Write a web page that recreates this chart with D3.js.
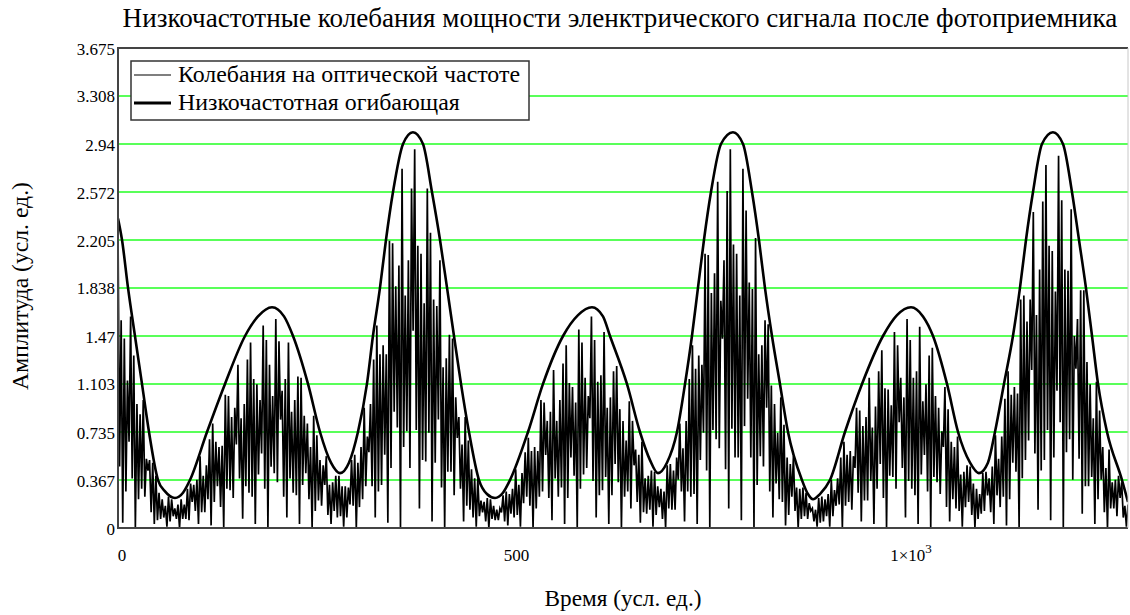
<!DOCTYPE html>
<html>
<head>
<meta charset="utf-8">
<script src="https://cdn.jsdelivr.net/npm/d3@7"></script>
<style>
  body { margin: 0; background: #fff; }
</style>
</head>
<body>
<svg id="chart" width="1130" height="615"></svg>
<script>
// Размеры области графика
var W = 1130, H = 615;
var PLOT = {left: 118, right: 1128, top: 48, bottom: 528};
var FONT = "Liberation Serif";

// Текст
var titleText = "Низкочастотные колебания мощности эленктрического сигнала после фотоприемника";
var xTitle = "Время (усл. ед.)";
var yTitle = "Амплитуда (усл. ед.)";
var legendNames = ["Колебания на оптической частоте", "Низкочастотная огибающая"];

// Оси
var xDomain = [0, 1280];
var yDomain = [0, 3.675];
var yTicks = [0, 0.367, 0.735, 1.103, 1.47, 1.838, 2.205, 2.572, 2.94, 3.308, 3.675];
var yTickLabels = ["0", "0.367", "0.735", "1.103", "1.47", "1.838", "2.205", "2.572", "2.94", "3.308", "3.675"];
var xTicks = [0, 500, 1000];
var xTickLabels = ["0", "500", "1×10|3"]; // "|" -> показатель степени

// Огибающая (время, значение)
var envT = [0, 5.1, 12.7, 21.5, 30.4, 39.3, 50.7, 59.6, 72.2, 82.4, 91.2, 112.8, 135.6, 161.0, 177.4, 195.2,
  210.4, 221.8, 240.8, 256.0, 269.9, 281.3, 292.7, 304.1, 315.5, 323.1, 332.0, 339.6, 348.5, 361.2, 373.8,
  386.5, 397.9, 408.1, 417.0, 425.8, 434.7, 444.8, 457.5, 467.6, 477.8, 487.9, 496.8, 519.6, 538.6, 564.0,
  583.0, 600.7, 614.6, 623.5, 645.0, 661.5, 674.2, 684.3, 695.7, 708.4, 718.6, 727.4, 735.0, 742.6, 751.5,
  764.2, 779.4, 792.1, 803.5, 812.3, 819.9, 828.8, 838.9, 849.1, 866.8, 874.4, 880.8, 889.6, 902.3, 921.3,
  942.9, 969.5, 987.3, 1005.0, 1020.2, 1032.9, 1050.6, 1064.6, 1079.8, 1091.1, 1102.5, 1111.4, 1122.8,
  1134.2, 1143.1, 1150.7, 1159.6, 1171.0, 1184.9, 1197.6, 1209.0, 1217.9, 1226.7, 1234.4, 1242.0, 1253.4,
  1272.4, 1280];
var envV = [2.37, 2.205, 1.838, 1.47, 1.103, 0.735, 0.367, 0.28, 0.23, 0.27, 0.367, 0.735, 1.103, 1.47, 1.62, 1.69,
  1.62, 1.47, 1.103, 0.735, 0.5, 0.42, 0.5, 0.735, 1.103, 1.47, 1.838, 2.205, 2.572, 2.94, 3.03,
  2.94, 2.572, 2.205, 1.838, 1.47, 1.103, 0.735, 0.367, 0.26, 0.23, 0.27, 0.367, 0.735, 1.103, 1.47,
  1.63, 1.69, 1.62, 1.47, 1.103, 0.735, 0.52, 0.42, 0.5, 0.735, 1.103, 1.47, 1.838, 2.205, 2.572,
  2.94, 3.03, 2.94, 2.572, 2.205, 1.838, 1.47, 1.103, 0.735, 0.367, 0.26, 0.22, 0.26, 0.367, 0.735,
  1.103, 1.47, 1.63, 1.69, 1.62, 1.47, 1.103, 0.735, 0.5, 0.42, 0.5, 0.735, 1.103,
  1.47, 1.838, 2.205, 2.572, 2.94, 3.03, 2.94, 2.572, 2.205, 1.838, 1.47, 1.103, 0.735,
  0.367, 0.2];

// Быстрые колебания: в каждом интервале 8 ед. —
// вершина, промежуточный минимум, вторая вершина, глубокий минимум
var SPIKE_STEP = 8;
var spikePeaks = [2.30, 1.45, 1.62, 0.95, 0.98, 0.52, 0.40, 0.22, 0.24, 0.15,
  0.22, 0.30, 0.33, 0.55, 0.48, 0.80, 0.62, 1.02, 0.85, 1.25,
  0.95, 1.42, 1.10, 1.55, 1.25, 1.60, 1.05, 1.42, 0.98, 1.15,
  0.80, 0.86, 0.52, 0.55, 0.35, 0.40, 0.32, 0.52, 0.50, 0.92,
  0.95, 1.55, 1.40, 2.20, 1.85, 2.75, 2.05, 2.90, 2.10, 2.60,
  1.75, 2.05, 1.30, 1.45, 0.85, 0.85, 0.45, 0.38, 0.20, 0.22,
  0.14, 0.25, 0.26, 0.45, 0.42, 0.69, 0.62, 0.98, 0.82, 1.21,
  0.98, 1.40, 1.08, 1.52, 1.15, 1.62, 1.12, 1.50, 1.00, 1.24,
  0.82, 0.97, 0.60, 0.66, 0.40, 0.43, 0.30, 0.48, 0.44, 0.80,
  0.82, 1.40, 1.32, 2.10, 1.80, 2.65, 2.05, 2.90, 2.10, 2.75,
  1.88, 2.22, 1.40, 1.56, 0.95, 1.00, 0.54, 0.55, 0.30, 0.27,
  0.15, 0.23, 0.22, 0.37, 0.38, 0.66, 0.59, 0.92, 0.78, 1.15,
  0.93, 1.36, 1.06, 1.50, 1.15, 1.60, 1.15, 1.54, 1.10, 1.38,
  0.92, 1.08, 0.66, 0.70, 0.43, 0.47, 0.30, 0.42, 0.38, 0.71,
  0.70, 1.20, 1.08, 1.75, 1.58, 2.42, 1.98, 2.78, 2.12, 2.85,
  1.98, 2.44, 1.60, 1.82, 1.10, 1.12, 0.62, 0.60, 0.37, 0.35,
  0.18];
var spikeMid = [0.47, 0.28, 0.38, 0.22, 0.24, 0.12, 0.06, 0.08, 0.05, 0.07,
  0.07, 0.06, 0.13, 0.12, 0.22, 0.20, 0.16, 0.30, 0.23, 0.38,
  0.32, 0.24, 0.41, 0.30, 0.47, 0.35, 0.24, 0.38, 0.25, 0.33,
  0.22, 0.13, 0.17, 0.10, 0.13, 0.09, 0.08, 0.17, 0.16, 0.32,
  0.32, 0.28, 0.56, 0.46, 0.77, 0.62, 0.46, 0.75, 0.52, 0.73,
  0.50, 0.31, 0.43, 0.25, 0.30, 0.17, 0.08, 0.09, 0.05, 0.07,
  0.06, 0.05, 0.11, 0.10, 0.19, 0.17, 0.15, 0.28, 0.23, 0.38,
  0.31, 0.23, 0.40, 0.30, 0.46, 0.36, 0.25, 0.39, 0.25, 0.35,
  0.24, 0.15, 0.20, 0.12, 0.14, 0.10, 0.07, 0.15, 0.14, 0.28,
  0.28, 0.26, 0.52, 0.44, 0.75, 0.61, 0.45, 0.76, 0.54, 0.78,
  0.54, 0.33, 0.47, 0.28, 0.34, 0.20, 0.10, 0.13, 0.07, 0.07,
  0.05, 0.04, 0.09, 0.09, 0.18, 0.17, 0.14, 0.27, 0.21, 0.36,
  0.30, 0.23, 0.40, 0.30, 0.46, 0.36, 0.25, 0.41, 0.28, 0.39,
  0.26, 0.16, 0.22, 0.13, 0.16, 0.10, 0.07, 0.13, 0.12, 0.25,
  0.24, 0.22, 0.43, 0.38, 0.67, 0.57, 0.44, 0.75, 0.54, 0.81,
  0.58, 0.37, 0.53, 0.32, 0.39, 0.22, 0.12, 0.15, 0.09, 0.08];
var spikeSub = [1.59, 1.13, 1.32, 0.87, 0.53, 0.50, 0.27, 0.17, 0.22, 0.18,
  0.18, 0.34, 0.37, 0.40, 0.68, 0.66, 0.63, 1.01, 0.92, 0.84,
  1.29, 1.14, 0.98, 1.44, 1.01, 1.43, 1.14, 0.89, 1.16, 0.86,
  0.62, 0.71, 0.48, 0.33, 0.40, 0.32, 0.31, 0.56, 0.62, 0.70,
  1.29, 1.33, 1.33, 2.18, 2.01, 1.78, 2.60, 2.16, 1.72, 2.26,
  1.70, 1.23, 1.48, 1.00, 0.64, 0.67, 0.38, 0.21, 0.23, 0.17,
  0.15, 0.28, 0.30, 0.33, 0.58, 0.59, 0.59, 0.96, 0.89, 0.82,
  1.26, 1.11, 0.96, 1.42, 1.01, 1.44, 1.17, 0.92, 1.20, 0.91,
  0.67, 0.82, 0.56, 0.38, 0.44, 0.32, 0.28, 0.49, 0.54, 0.61,
  1.14, 1.22, 1.25, 2.09, 1.95, 1.74, 2.58, 2.17, 1.78, 2.43,
  1.83, 1.33, 1.59, 1.09, 0.73, 0.79, 0.49, 0.31, 0.31, 0.19,
  0.14, 0.24, 0.26, 0.29, 0.54, 0.56, 0.55, 0.90, 0.85, 0.77,
  1.20, 1.07, 0.94, 1.40, 1.00, 1.44, 1.20, 0.97, 1.32, 1.01,
  0.74, 0.91, 0.62, 0.41, 0.48, 0.34, 0.26, 0.43, 0.47, 0.53,
  0.99, 1.02, 1.03, 1.78, 1.75, 1.63, 2.50, 2.16, 1.81, 2.51,
  1.97, 1.47, 1.82, 1.27, 0.84, 0.90, 0.46, 0.35, 0.40, 0.17];
var spikeTroughs = [0.04, 0.66, 0, 0.30, 0.44, 0.03, 0.07, 0.01, 0.09, 0,
  0.07, 0.20, 0.03, 0.12, 0.02, 0.32, 0, 0.29, 0.64, 0.07,
  0.27, 0.03, 0.57, 0, 0.42, 0.83, 0.08, 0.27, 0.03, 0.42,
  0, 0.21, 0.33, 0.03, 0.08, 0.01, 0.18, 0, 0.22, 0.58,
  0.08, 0.33, 0.04, 0.89, 0, 0.74, 1.51, 0.15, 0.51, 0.05,
  0.83, 0, 0.43, 0.69, 0.05, 0.14, 0.01, 0.12, 0, 0.06,
  0.12, 0.02, 0.08, 0.01, 0.24, 0, 0.24, 0.56, 0.06, 0.24,
  0.03, 0.54, 0, 0.41, 0.84, 0.08, 0.29, 0.03, 0.49, 0,
  0.28, 0.48, 0.04, 0.11, 0.01, 0.16, 0, 0.14, 0.37, 0.05,
  0.24, 0.03, 0.73, 0, 0.68, 1.45, 0.15, 0.54, 0.06, 0.99,
  0, 0.55, 0.92, 0.08, 0.22, 0.02, 0.24, 0, 0.09, 0.13,
  0.01, 0.05, 0.01, 0.17, 0, 0.20, 0.46, 0.05, 0.21, 0.03,
  0.49, 0, 0.39, 0.81, 0.08, 0.30, 0.03, 0.56, 0, 0.35,
  0.62, 0.05, 0.15, 0.01, 0.20, 0, 0.11, 0.25, 0.03, 0.16,
  0.02, 0.50, 0, 0.52, 1.21, 0.14, 0.52, 0.06, 1.05, 0,
  0.68, 1.22, 0.11, 0.32, 0.03, 0.37, 0, 0.15, 0.23, 0.01];

var svg = d3.select("#chart").attr("font-family", FONT);

var x = d3.scaleLinear().domain(xDomain).range([PLOT.left, PLOT.right]);
var y = d3.scaleLinear().domain(yDomain).range([PLOT.bottom, PLOT.top]);

// подгонка размера шрифта под нужную ширину
function fitText(sel, width, base) {
  sel.attr("font-size", base);
  var w = sel.node().getComputedTextLength();
  sel.attr("font-size", (base * width / w).toFixed(2));
}

// Заголовок
var title = svg.append("text")
  .attr("x", 620).attr("y", 27)
  .attr("text-anchor", "middle")
  .text(titleText);
fitText(title, 995, 20);

svg.append("defs").append("clipPath").attr("id", "plotClip")
  .append("rect")
  .attr("x", PLOT.left).attr("y", PLOT.top)
  .attr("width", PLOT.right - PLOT.left).attr("height", PLOT.bottom - PLOT.top);

// Горизонтальная сетка
svg.append("g")
  .selectAll("line")
  .data(yTicks.slice(1, -1))
  .enter().append("line")
  .attr("x1", PLOT.left).attr("x2", PLOT.right)
  .attr("y1", function(d) { return y(d); })
  .attr("y2", function(d) { return y(d); })
  .attr("stroke", "#22ff22")
  .attr("stroke-width", 1.6);

// Быстрые колебания
var spikePts = [];
for (var i = 0; i < spikePeaks.length; i++) {
  var t0 = i * SPIKE_STEP;
  spikePts.push([t0, spikePeaks[i]]);
  if (i < spikeTroughs.length) {
    spikePts.push([t0 + 2, spikeMid[i]]);
    spikePts.push([t0 + 4, spikeSub[i]]);
    spikePts.push([t0 + 6, spikeTroughs[i]]);
  }
}
var lineGen = d3.line()
  .x(function(d) { return x(d[0]); })
  .y(function(d) { return y(d[1]); });

var plotG = svg.append("g").attr("clip-path", "url(#plotClip)");
plotG.append("path")
  .datum(spikePts)
  .attr("d", lineGen)
  .attr("fill", "none")
  .attr("stroke", "#000")
  .attr("stroke-width", 1.7);

// Огибающая
var envPts = envT.map(function(t, k) { return [t, envV[k]]; });
plotG.append("path")
  .datum(envPts)
  .attr("d", d3.line()
    .x(function(d) { return x(d[0]); })
    .y(function(d) { return y(d[1]); })
    .curve(d3.curveMonotoneX))
  .attr("fill", "none")
  .attr("stroke", "#000")
  .attr("stroke-width", 2.6);

// Рамка
var frame = svg.append("g").attr("fill", "none");
frame.append("path")
  .attr("d", "M" + PLOT.right + "," + PLOT.top + "H" + PLOT.left + "V" + PLOT.bottom + "H" + PLOT.right)
  .attr("stroke", "#444").attr("stroke-width", 2);
frame.append("line")
  .attr("x1", PLOT.right).attr("x2", PLOT.right)
  .attr("y1", PLOT.top).attr("y2", PLOT.bottom)
  .attr("stroke", "#c8c8c8").attr("stroke-width", 1);

// Подписи оси Y
svg.append("g")
  .selectAll("text")
  .data(yTicks)
  .enter().append("text")
  .attr("x", PLOT.left - 3)
  .attr("y", function(d) { return y(d) + 1; })
  .attr("text-anchor", "end")
  .attr("dominant-baseline", "central")
  .attr("font-size", 17)
  .text(function(d, k) { return yTickLabels[k]; });

// Подписи оси X
var xl = svg.append("g")
  .selectAll("text")
  .data(xTicks)
  .enter().append("text")
  .attr("x", function(d) { return x(d) + 4; })
  .attr("y", 561)
  .attr("text-anchor", "middle")
  .attr("font-size", 17);
xl.each(function(d, k) {
  var parts = xTickLabels[k].split("|");
  var t = d3.select(this);
  t.append("tspan").text(parts[0]);
  if (parts[1]) t.append("tspan").attr("dy", -8).attr("font-size", 13).text(parts[1]);
});

// Названия осей
var xt = svg.append("text")
  .attr("x", 623).attr("y", 606)
  .attr("text-anchor", "middle")
  .text(xTitle);
fitText(xt, 157, 20);

var yt = svg.append("text")
  .attr("transform", "translate(28,286) rotate(-90)")
  .attr("text-anchor", "middle")
  .text(yTitle);
fitText(yt, 208, 20);

// Легенда
var leg = svg.append("g");
leg.append("rect")
  .attr("x", 131).attr("y", 61)
  .attr("width", 398).attr("height", 59)
  .attr("fill", "#fff")
  .attr("stroke", "#333").attr("stroke-width", 1.5);
var legW = [1.2, 2.8];
var legSize = null;
legendNames.forEach(function(name, k) {
  var ly = 75 + k * 28;
  leg.append("line")
    .attr("x1", 134).attr("x2", 171)
    .attr("y1", ly).attr("y2", ly)
    .attr("stroke", "#000").attr("stroke-width", legW[k]);
  var t = leg.append("text")
    .attr("x", 178).attr("y", ly + 7)
    .text(name);
  if (k === 0) { fitText(t, 342, 19); legSize = t.attr("font-size"); }
  else t.attr("font-size", legSize);
});
</script>
</body>
</html>
